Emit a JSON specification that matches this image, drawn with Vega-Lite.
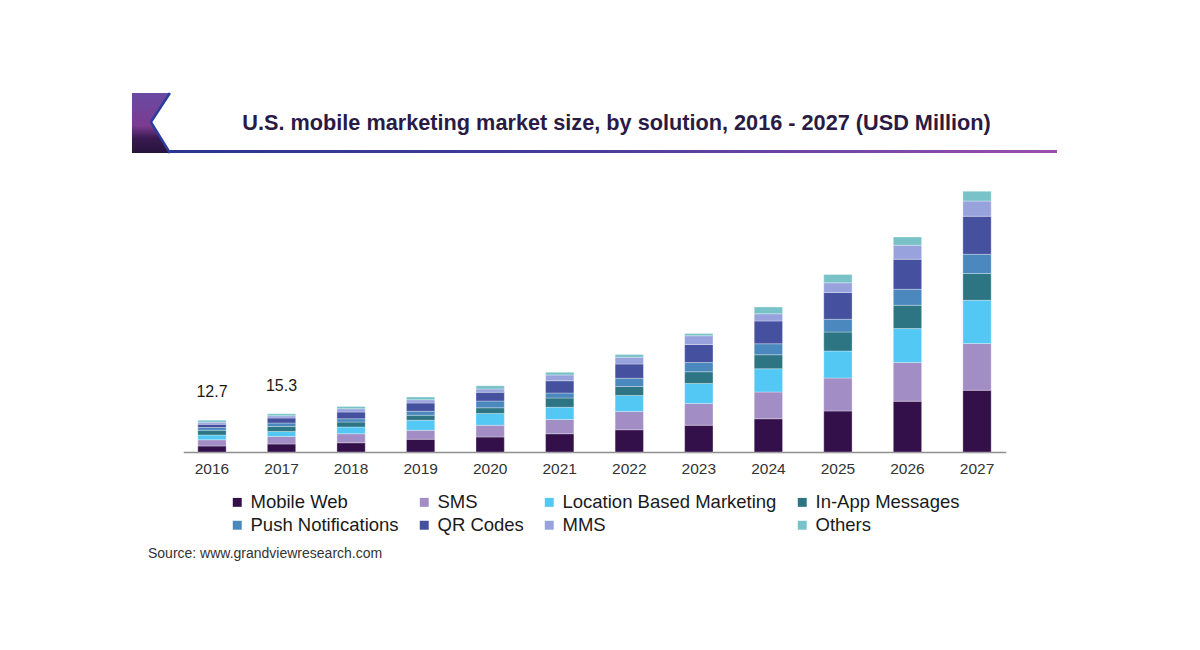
{
  "$schema": "https://vega.github.io/schema/vega-lite/v6.json",
  "padding": {"top": 88, "left": 131, "right": 5, "bottom": 5},
  "config": {
    "view": {"stroke": null},
    "font": "Liberation Sans",
    "legend": {"layout": {"bottom": {"anchor": "middle"}}}
  },
  "title": {
    "text": "Source: www.grandviewresearch.com",
    "orient": "bottom",
    "anchor": "start",
    "fontSize": 14,
    "fontWeight": "normal",
    "color": "#333333",
    "dx": 16,
    "offset": 12
  },
  "datasets": {
    "segments": [
      {"year": "2016", "solution": "Mobile Web", "k": 1, "value": 2.4},
      {"year": "2016", "solution": "SMS", "k": 2, "value": 2.5},
      {"year": "2016", "solution": "Location Based Marketing", "k": 3, "value": 1.9},
      {"year": "2016", "solution": "In-App Messages", "k": 4, "value": 1.9},
      {"year": "2016", "solution": "Push Notifications", "k": 5, "value": 1.1},
      {"year": "2016", "solution": "QR Codes", "k": 6, "value": 1.3},
      {"year": "2016", "solution": "MMS", "k": 7, "value": 0.8},
      {"year": "2016", "solution": "Others", "k": 8, "value": 0.8},
      {"year": "2017", "solution": "Mobile Web", "k": 1, "value": 3.2},
      {"year": "2017", "solution": "SMS", "k": 2, "value": 3.0},
      {"year": "2017", "solution": "Location Based Marketing", "k": 3, "value": 2.0},
      {"year": "2017", "solution": "In-App Messages", "k": 4, "value": 2.0},
      {"year": "2017", "solution": "Push Notifications", "k": 5, "value": 1.4},
      {"year": "2017", "solution": "QR Codes", "k": 6, "value": 2.0},
      {"year": "2017", "solution": "MMS", "k": 7, "value": 0.9},
      {"year": "2017", "solution": "Others", "k": 8, "value": 0.8},
      {"year": "2018", "solution": "Mobile Web", "k": 1, "value": 3.7},
      {"year": "2018", "solution": "SMS", "k": 2, "value": 3.6},
      {"year": "2018", "solution": "Location Based Marketing", "k": 3, "value": 2.7},
      {"year": "2018", "solution": "In-App Messages", "k": 4, "value": 2.0},
      {"year": "2018", "solution": "Push Notifications", "k": 5, "value": 1.3},
      {"year": "2018", "solution": "QR Codes", "k": 6, "value": 2.7},
      {"year": "2018", "solution": "MMS", "k": 7, "value": 1.3},
      {"year": "2018", "solution": "Others", "k": 8, "value": 0.9},
      {"year": "2019", "solution": "Mobile Web", "k": 1, "value": 5.1},
      {"year": "2019", "solution": "SMS", "k": 2, "value": 3.6},
      {"year": "2019", "solution": "Location Based Marketing", "k": 3, "value": 4.0},
      {"year": "2019", "solution": "In-App Messages", "k": 4, "value": 2.0},
      {"year": "2019", "solution": "Push Notifications", "k": 5, "value": 1.6},
      {"year": "2019", "solution": "QR Codes", "k": 6, "value": 3.3},
      {"year": "2019", "solution": "MMS", "k": 7, "value": 1.3},
      {"year": "2019", "solution": "Others", "k": 8, "value": 1.1},
      {"year": "2020", "solution": "Mobile Web", "k": 1, "value": 6.0},
      {"year": "2020", "solution": "SMS", "k": 2, "value": 4.7},
      {"year": "2020", "solution": "Location Based Marketing", "k": 3, "value": 4.7},
      {"year": "2020", "solution": "In-App Messages", "k": 4, "value": 2.3},
      {"year": "2020", "solution": "Push Notifications", "k": 5, "value": 2.7},
      {"year": "2020", "solution": "QR Codes", "k": 6, "value": 3.5},
      {"year": "2020", "solution": "MMS", "k": 7, "value": 1.3},
      {"year": "2020", "solution": "Others", "k": 8, "value": 1.3},
      {"year": "2021", "solution": "Mobile Web", "k": 1, "value": 7.3},
      {"year": "2021", "solution": "SMS", "k": 2, "value": 5.7},
      {"year": "2021", "solution": "Location Based Marketing", "k": 3, "value": 4.9},
      {"year": "2021", "solution": "In-App Messages", "k": 4, "value": 3.7},
      {"year": "2021", "solution": "Push Notifications", "k": 5, "value": 2.0},
      {"year": "2021", "solution": "QR Codes", "k": 6, "value": 4.9},
      {"year": "2021", "solution": "MMS", "k": 7, "value": 2.3},
      {"year": "2021", "solution": "Others", "k": 8, "value": 1.1},
      {"year": "2022", "solution": "Mobile Web", "k": 1, "value": 8.9},
      {"year": "2022", "solution": "SMS", "k": 2, "value": 7.3},
      {"year": "2022", "solution": "Location Based Marketing", "k": 3, "value": 6.4},
      {"year": "2022", "solution": "In-App Messages", "k": 4, "value": 3.6},
      {"year": "2022", "solution": "Push Notifications", "k": 5, "value": 3.3},
      {"year": "2022", "solution": "QR Codes", "k": 6, "value": 5.7},
      {"year": "2022", "solution": "MMS", "k": 7, "value": 2.7},
      {"year": "2022", "solution": "Others", "k": 8, "value": 1.1},
      {"year": "2023", "solution": "Mobile Web", "k": 1, "value": 10.7},
      {"year": "2023", "solution": "SMS", "k": 2, "value": 8.7},
      {"year": "2023", "solution": "Location Based Marketing", "k": 3, "value": 8.0},
      {"year": "2023", "solution": "In-App Messages", "k": 4, "value": 4.7},
      {"year": "2023", "solution": "Push Notifications", "k": 5, "value": 3.7},
      {"year": "2023", "solution": "QR Codes", "k": 6, "value": 7.2},
      {"year": "2023", "solution": "MMS", "k": 7, "value": 3.5},
      {"year": "2023", "solution": "Others", "k": 8, "value": 0.9},
      {"year": "2024", "solution": "Mobile Web", "k": 1, "value": 13.3},
      {"year": "2024", "solution": "SMS", "k": 2, "value": 10.7},
      {"year": "2024", "solution": "Location Based Marketing", "k": 3, "value": 9.3},
      {"year": "2024", "solution": "In-App Messages", "k": 4, "value": 5.6},
      {"year": "2024", "solution": "Push Notifications", "k": 5, "value": 4.4},
      {"year": "2024", "solution": "QR Codes", "k": 6, "value": 9.1},
      {"year": "2024", "solution": "MMS", "k": 7, "value": 2.9},
      {"year": "2024", "solution": "Others", "k": 8, "value": 2.7},
      {"year": "2025", "solution": "Mobile Web", "k": 1, "value": 16.4},
      {"year": "2025", "solution": "SMS", "k": 2, "value": 13.2},
      {"year": "2025", "solution": "Location Based Marketing", "k": 3, "value": 10.8},
      {"year": "2025", "solution": "In-App Messages", "k": 4, "value": 7.6},
      {"year": "2025", "solution": "Push Notifications", "k": 5, "value": 5.1},
      {"year": "2025", "solution": "QR Codes", "k": 6, "value": 10.7},
      {"year": "2025", "solution": "MMS", "k": 7, "value": 3.9},
      {"year": "2025", "solution": "Others", "k": 8, "value": 3.3},
      {"year": "2026", "solution": "Mobile Web", "k": 1, "value": 20.3},
      {"year": "2026", "solution": "SMS", "k": 2, "value": 15.5},
      {"year": "2026", "solution": "Location Based Marketing", "k": 3, "value": 13.6},
      {"year": "2026", "solution": "In-App Messages", "k": 4, "value": 9.3},
      {"year": "2026", "solution": "Push Notifications", "k": 5, "value": 6.4},
      {"year": "2026", "solution": "QR Codes", "k": 6, "value": 12.0},
      {"year": "2026", "solution": "MMS", "k": 7, "value": 5.6},
      {"year": "2026", "solution": "Others", "k": 8, "value": 3.3},
      {"year": "2027", "solution": "Mobile Web", "k": 1, "value": 24.7},
      {"year": "2027", "solution": "SMS", "k": 2, "value": 18.7},
      {"year": "2027", "solution": "Location Based Marketing", "k": 3, "value": 17.3},
      {"year": "2027", "solution": "In-App Messages", "k": 4, "value": 10.7},
      {"year": "2027", "solution": "Push Notifications", "k": 5, "value": 7.7},
      {"year": "2027", "solution": "QR Codes", "k": 6, "value": 15.2},
      {"year": "2027", "solution": "MMS", "k": 7, "value": 6.1},
      {"year": "2027", "solution": "Others", "k": 8, "value": 3.9}
    ],
    "labels": [
      {"year": "2016", "total": 12.7, "label": "12.7"},
      {"year": "2017", "total": 15.3, "label": "15.3"}
    ]
  },
  "spacing": 22,
  "center": true,
  "vconcat": [
    {
      "width": 925,
      "height": 60,
      "data": {"values": [{}]},
      "layer": [
        {
          "mark": {
            "type": "rect",
            "fill": {
              "gradient": "linear", "x1": 0, "y1": 0, "x2": 1, "y2": 0,
              "stops": [
                {"offset": 0, "color": "#26358f"},
                {"offset": 0.5, "color": "#4a3c9c"},
                {"offset": 1, "color": "#9a4fae"}
              ]
            }
          },
          "encoding": {
            "x": {"datum": 0, "type": "quantitative", "scale": {"domain": [0, 1], "nice": false, "zero": false}, "axis": null},
            "x2": {"datum": 1},
            "y": {"datum": 0, "type": "quantitative", "scale": {"domain": [0, 1], "nice": false, "zero": false}, "axis": null},
            "y2": {"datum": 0.05}
          }
        },
        {
          "mark": {
            "type": "point",
            "filled": true,
            "opacity": 1,
            "shape": "M-0.633,-1 L0.633,-1 L0,-0.03 L0.633,1 L-0.633,1 Z",
            "size": 3600,
            "strokeWidth": 0,
            "fill": {
              "gradient": "linear", "x1": 0, "y1": 0, "x2": 0, "y2": 1,
              "stops": [
                {"offset": 0, "color": "#6a4aa3"},
                {"offset": 0.55, "color": "#7b3b90"},
                {"offset": 0.75, "color": "#3a1a52"},
                {"offset": 1, "color": "#26133a"}
              ]
            }
          },
          "encoding": {
            "x": {"datum": 0.0205, "type": "quantitative"},
            "y": {"datum": 0.5, "type": "quantitative"}
          }
        },
        {
          "mark": {
            "type": "point",
            "filled": false,
            "opacity": 1,
            "shape": "M0.633,-1 L0,-0.03 L0.633,1",
            "size": 3600,
            "stroke": "#2b3d9e",
            "strokeWidth": 2.5
          },
          "encoding": {
            "x": {"datum": 0.0205, "type": "quantitative"},
            "y": {"datum": 0.5, "type": "quantitative"}
          }
        },
        {
          "mark": {
            "type": "text",
            "text": "U.S. mobile marketing market size, by solution, 2016 - 2027 (USD Million)",
            "fontSize": 21.7,
            "fontWeight": "bold",
            "color": "#2a1b44",
            "align": "center",
            "baseline": "middle"
          },
          "encoding": {
            "x": {"datum": 0.5238, "type": "quantitative"},
            "y": {"datum": 0.5, "type": "quantitative"}
          }
        }
      ]
    },
    {
      "width": 822.5,
      "height": 272,
      "layer": [
        {
          "data": {"name": "segments"},
          "mark": {"type": "bar", "stroke": "#ffffff", "strokeWidth": 0.5, "strokeOpacity": 0.6},
          "encoding": {
            "x": {
              "field": "year", "type": "ordinal",
              "scale": {"paddingInner": 0.593, "paddingOuter": 0.2095},
              "axis": {"title": null, "labelAngle": 0, "labelFontSize": 15.5, "labelColor": "#333333", "ticks": false, "labelPadding": 9, "domainColor": "#8f8f8f", "domainWidth": 1.5, "grid": false}
            },
            "y": {
              "field": "value", "type": "quantitative", "stack": "zero",
              "scale": {"domain": [0, 108.8], "nice": false},
              "axis": null
            },
            "order": {"field": "k", "type": "quantitative", "sort": "ascending"},
            "color": {
              "field": "solution", "type": "nominal",
              "sort": ["Mobile Web", "SMS", "Location Based Marketing", "In-App Messages", "Push Notifications", "QR Codes", "MMS", "Others"],
              "scale": {
                "domain": ["Mobile Web", "SMS", "Location Based Marketing", "In-App Messages", "Push Notifications", "QR Codes", "MMS", "Others"],
                "range": ["#33104a", "#a38dc5", "#54c8f4", "#2e7584", "#4a88be", "#45509f", "#98a3dd", "#79c3c8"]
              },
              "legend": {
                "title": null, "orient": "bottom", "direction": "horizontal", "columns": 4,
                "symbolType": "square", "symbolSize": 80, "symbolStrokeWidth": 0,
                "labelFontSize": 18.5, "labelColor": "#1a1a1a", "labelLimit": 400,
                "columnPadding": 16, "rowPadding": 4, "offset": 16
              }
            }
          }
        },
        {
          "data": {"name": "labels"},
          "mark": {"type": "text", "dy": -28, "fontSize": 16, "color": "#1a1a1a"},
          "encoding": {
            "x": {"field": "year", "type": "ordinal"},
            "y": {"field": "total", "type": "quantitative"},
            "text": {"field": "label"}
          }
        }
      ]
    }
  ]
}
